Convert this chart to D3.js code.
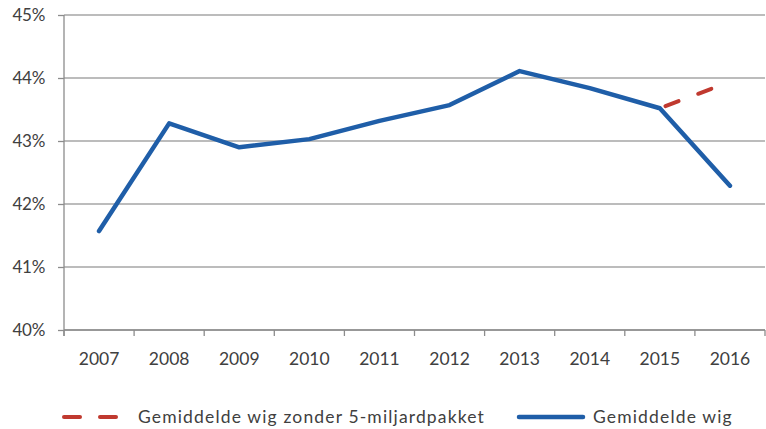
<!DOCTYPE html>
<html><head><meta charset="utf-8">
<script src="https://cdn.jsdelivr.net/npm/d3@7"></script>
<style>
html,body{margin:0;padding:0;background:#fff;}
svg{display:block;}
text{font-family:Lato,"Open Sans",sans-serif;fill:#404040;}
</style></head>
<body>
<svg id="c" width="766" height="429"></svg>
<script>
const years = ["2007","2008","2009","2010","2011","2012","2013","2014","2015","2016"];
const wig = [41.57, 43.28, 42.90, 43.03, 43.32, 43.57, 44.11, 43.84, 43.52, 42.29];
const wigZonderYears = ["2015","2016"];
const wigZonder = [43.52, 43.94];
const yTicks = [40, 41, 42, 43, 44, 45];
const legendLabels = ["Gemiddelde wig zonder 5-miljardpakket", "Gemiddelde wig"];

(function () {
const svg = d3.select("#c");
const pL = 64, pR = 765, pT = 15, pB = 330;
const x = d3.scaleBand().domain(years).range([pL, pR]);
const y = d3.scaleLinear().domain([40, 45]).range([pB, pT]);
const cx = d => x(d) + x.bandwidth() / 2;

// gridlines
svg.append("g").selectAll("line").data(yTicks).join("line")
  .attr("x1", pL).attr("x2", pR)
  .attr("y1", d => y(d)).attr("y2", d => y(d))
  .attr("stroke", "#a6a6a6").attr("stroke-width", 1.3);

// y axis
const yAxis = d3.axisLeft(y).tickValues(yTicks).tickFormat(d => d + "%").tickSize(6).tickPadding(13);
const ya = svg.append("g").attr("transform", `translate(${pL},0)`).call(yAxis);
ya.select(".domain").attr("stroke", "#8c8c8c").attr("stroke-width", 1.3).attr("d", `M0,${pT}V${pB + 6}`);
ya.selectAll(".tick line").attr("stroke", "#8c8c8c").attr("stroke-width", 1.3);
ya.selectAll("text").style("font-size", "17px").attr("fill", "#404040").style("font-family", "Lato").style("letter-spacing", "-0.3px");

// x axis
const xa = svg.append("g").attr("transform", `translate(0,${pB})`);
xa.append("line").attr("x1", pL).attr("x2", pR).attr("stroke", "#8c8c8c").attr("stroke-width", 1.3);
const bounds = years.map(d => x(d)).concat([x(years[years.length - 1]) + x.bandwidth()]);
xa.selectAll("line.t").data(bounds).join("line").attr("class", "t")
  .attr("x1", d => d).attr("x2", d => d).attr("y1", 0).attr("y2", 6)
  .attr("stroke", "#8c8c8c").attr("stroke-width", 1.3);
xa.selectAll("text").data(years).join("text")
  .attr("x", d => cx(d)).attr("y", 35).attr("text-anchor", "middle")
  .style("font-size", "17.5px").text(d => d);

// lines
const line = d3.line().x(d => cx(d[0])).y(d => y(d[1]));
svg.append("path").datum(wigZonderYears.map((d, i) => [d, wigZonder[i]]))
  .attr("d", line).attr("fill", "none").attr("stroke", "#c0392f").attr("stroke-width", 4)
  .attr("stroke-dasharray", "14,21,14,60").attr("stroke-dashoffset", -6).attr("stroke-linecap", "round");
svg.append("path").datum(years.map((d, i) => [d, wig[i]]))
  .attr("d", line).attr("fill", "none").attr("stroke", "#1f5ea8").attr("stroke-width", 4.5)
  .attr("stroke-linejoin", "round").attr("stroke-linecap", "round");

// legend
const lg = svg.append("g");
lg.append("line").attr("x1", 64).attr("x2", 80).attr("y1", 417).attr("y2", 417).attr("stroke", "#c0392f").attr("stroke-width", 4).attr("stroke-linecap", "round");
lg.append("line").attr("x1", 100).attr("x2", 116).attr("y1", 417).attr("y2", 417).attr("stroke", "#c0392f").attr("stroke-width", 4).attr("stroke-linecap", "round");
lg.append("text").attr("x", 138).attr("y", 423).style("font-size", "17.5px").style("letter-spacing", "1.15px").text(legendLabels[0]);
lg.append("line").attr("x1", 519).attr("x2", 583).attr("y1", 417).attr("y2", 417).attr("stroke", "#1f5ea8").attr("stroke-width", 4.5).attr("stroke-linecap", "round");
lg.append("text").attr("x", 593).attr("y", 423).style("font-size", "17.5px").style("letter-spacing", "1.15px").text(legendLabels[1]);
})();
</script>
</body></html>
